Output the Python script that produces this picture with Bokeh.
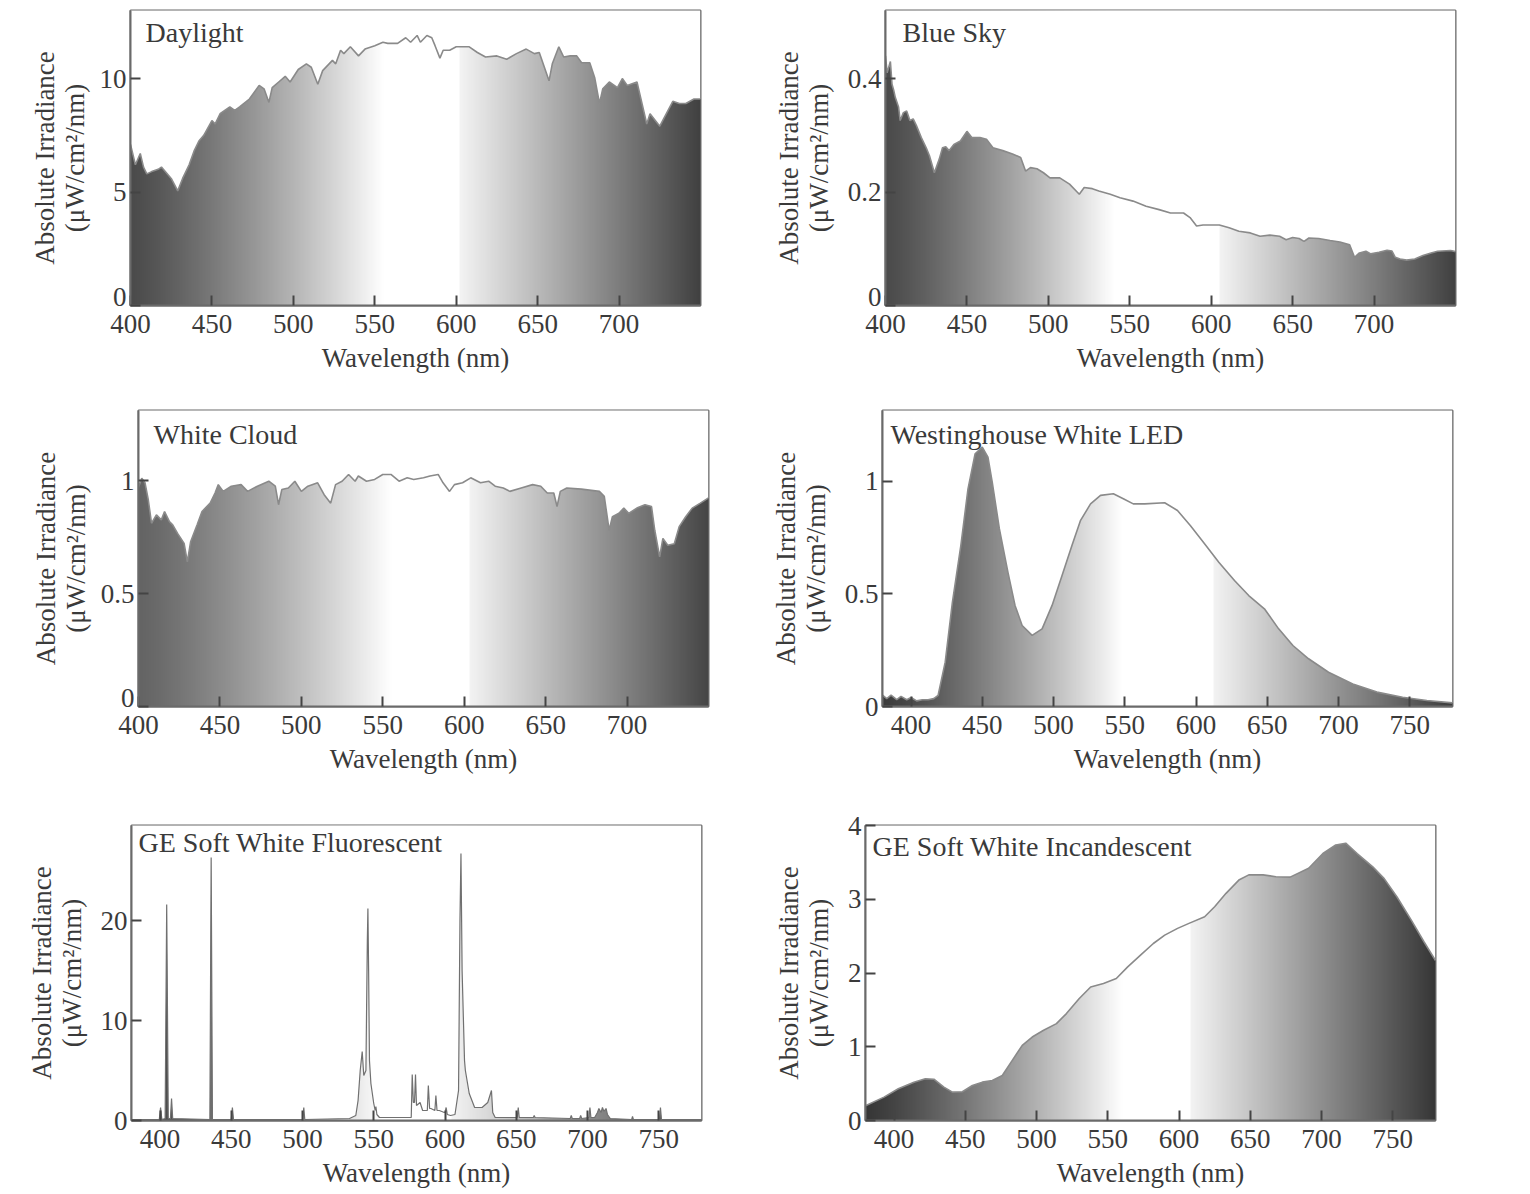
import numpy as np
from bokeh.plotting import figure
from bokeh.layouts import column, row
from bokeh.models import Label, FixedTicker, NumeralTickFormatter
from bokeh.embed import file_html
from bokeh.resources import INLINE

# ---------------- data ----------------
daylight_nm = [400, 403, 406, 408, 410, 413, 417, 419, 422, 425, 429, 432, 436, 439, 442,
               445, 450, 452, 455, 461, 464, 467, 473, 479, 482, 485, 487, 491, 495, 498,
               503, 508, 511, 515, 518, 524, 526, 529, 531, 535, 540, 544, 550, 555, 558,
               564, 569, 572, 576, 578, 582, 585, 587, 590, 592, 596, 600, 608, 613, 618,
               625, 631, 637, 643, 648, 651, 657, 659, 663, 666, 670, 674, 677, 682, 685,
               688, 690, 694, 699, 702, 705, 711, 717, 719, 725, 733, 737, 741, 746, 750]
daylight_val = [7.1, 6.2, 6.7, 6.1, 5.8, 5.9, 6.0, 6.1, 5.85, 5.6, 5.05, 5.6, 6.2, 6.8, 7.25,
                7.5, 8.15, 8.0, 8.45, 8.75, 8.6, 8.75, 9.1, 9.7, 9.55, 8.95, 9.6, 9.85, 10.1, 9.85,
                10.4, 10.65, 10.5, 9.75, 10.35, 10.8, 10.65, 11.25, 11.1, 11.4, 11.0, 11.3, 11.45, 11.6, 11.55,
                11.55, 11.8, 11.6, 11.9, 11.6, 11.9, 11.8, 11.45, 10.9, 11.25, 11.25, 11.4, 11.4, 11.15, 10.95,
                11.0, 10.85, 11.1, 11.3, 11.1, 11.15, 9.9, 10.65, 11.4, 10.95, 11.0, 11.0, 10.7, 10.7, 10.05,
                8.9, 9.55, 9.85, 9.6, 10.0, 9.7, 9.85, 8.0, 8.45, 7.9, 9.0, 8.9, 8.9, 9.1, 9.1]

sky_nm = [400, 401, 403, 404, 405, 406, 408, 409, 411, 413, 415, 417, 419, 422, 425,
          427, 430, 433, 435, 437, 439, 442, 446, 450, 453, 458, 462, 466, 472, 478,
          483, 486, 489, 493, 497, 501, 507, 513, 519, 522, 527, 531, 538, 544, 552,
          560, 568, 575, 583, 587, 591, 595, 605, 611, 617, 624, 630, 636, 642, 646,
          650, 654, 657, 660, 666, 673, 679, 685, 688, 691, 695, 698, 703, 708, 711,
          713, 716, 720, 725, 730, 735, 739, 747, 750]
sky_val = [0.44, 0.41, 0.43, 0.39, 0.38, 0.367, 0.35, 0.326, 0.34, 0.343, 0.326, 0.329, 0.317, 0.296, 0.278,
           0.264, 0.234, 0.258, 0.278, 0.28, 0.273, 0.284, 0.29, 0.307, 0.296, 0.296, 0.293, 0.278, 0.273, 0.267,
           0.261, 0.237, 0.243, 0.241, 0.234, 0.225, 0.225, 0.214, 0.196, 0.208, 0.206, 0.202, 0.196, 0.19, 0.184,
           0.175, 0.169, 0.163, 0.163, 0.155, 0.14, 0.142, 0.142, 0.137, 0.131, 0.128, 0.122, 0.124, 0.122, 0.116,
           0.12, 0.118, 0.113, 0.119, 0.118, 0.1145, 0.112, 0.107, 0.085, 0.0926, 0.0956, 0.091, 0.094, 0.0973, 0.096,
           0.085, 0.082, 0.08, 0.082, 0.088, 0.0926, 0.0956, 0.097, 0.095]

cloud_nm = [400, 402, 404, 406, 408, 411, 414, 416, 419, 421, 424, 428, 430, 432, 436,
            439, 444, 447, 449, 452, 457, 463, 467, 473, 480, 484, 486, 488, 492, 496,
            500, 504, 510, 514, 518, 521, 525, 529, 533, 535, 540, 545, 550, 555, 560,
            565, 569, 575, 579, 584, 587, 591, 594, 599, 604, 610, 615, 619, 624, 628,
            635, 642, 647, 651, 655, 657, 659, 663, 672, 683, 686, 689, 691, 695, 698,
            701, 706, 711, 715, 717, 720, 722, 725, 729, 732, 736, 740, 745, 750]
cloud_val = [0.97, 1.01, 0.99, 0.915, 0.811, 0.848, 0.826, 0.863, 0.818, 0.804, 0.766, 0.722, 0.64, 0.729, 0.804,
             0.863, 0.9, 0.945, 0.982, 0.952, 0.975, 0.982, 0.952, 0.975, 0.997, 0.975, 0.893, 0.96, 0.967, 0.997,
             0.952, 0.975, 0.99, 0.9375, 0.9, 0.982, 0.997, 1.027, 0.997, 1.02, 0.997, 1.005, 1.027, 1.027, 0.997,
             1.012, 1.005, 1.012, 1.02, 1.027, 0.99, 0.952, 0.982, 0.99, 1.012, 0.99, 0.997, 0.975, 0.967, 0.952,
             0.967, 0.982, 0.975, 0.945, 0.945, 0.885, 0.952, 0.967, 0.962, 0.952, 0.93, 0.78, 0.84, 0.855, 0.878,
             0.855, 0.878, 0.893, 0.885, 0.78, 0.662, 0.744, 0.714, 0.72, 0.796, 0.84, 0.878, 0.9, 0.923]

led_nm = [380, 383, 386, 390, 393, 397, 400, 404, 408, 412, 416, 419, 424, 429, 435,
          440, 445, 450, 454, 457, 462, 468, 473, 478, 485, 492, 499, 506, 513, 519,
          526, 533, 542, 549, 556, 564, 578, 587, 596, 606, 616, 627, 637, 648, 658,
          668, 679, 693, 710, 727, 745, 762, 780]
led_val = [0.05, 0.035, 0.05, 0.03, 0.045, 0.03, 0.04, 0.025, 0.03, 0.03, 0.035, 0.049, 0.197, 0.46, 0.716,
           0.967, 1.123, 1.152, 1.108, 0.997, 0.79, 0.597, 0.449, 0.36, 0.316, 0.345, 0.449, 0.582, 0.716, 0.827,
           0.9, 0.938, 0.945, 0.923, 0.9, 0.9, 0.905, 0.871, 0.804, 0.723, 0.641, 0.56, 0.493, 0.434, 0.345,
           0.271, 0.212, 0.152, 0.1, 0.064, 0.041, 0.027, 0.016]

fluor_nm = [380, 399.5, 400.4, 401.3, 403.6, 404.7, 405.8, 407.3, 408.1, 408.9, 435.0, 435.9, 436.8,
            450.0, 450.8, 451.6, 500.2, 500.9, 501.6, 533, 537.4, 539, 540.5, 541.9, 543.0, 544.5,
            545.5, 545.9, 546.4, 547, 548, 550, 551, 551.5, 552.2, 554, 576.3, 577.0, 577.8, 578.6,
            579.3, 580.0, 582.5, 584.3, 587.6, 588.3, 589.2, 590.1, 592.9, 593.6, 594.4, 596, 599.5,
            600.0, 600.8, 601.6, 603.9, 607, 609.5, 610.5, 611.2, 612, 613.7, 614.3, 617, 620.8, 626,
            630, 632.6, 633.5, 635.2, 650.7, 651.4, 652.1, 662.0, 662.6, 663.2, 687.9, 688.6, 689.3,
            694.5, 695.2, 695.9, 701.0, 701.7, 702.4, 705, 707, 708, 709.5, 710.5, 711.5, 713, 714,
            716, 731.0, 731.6, 732.2, 750.5, 751.2, 751.9, 780]
fluor_val = [0.1, 0.1, 1.3, 0.1, 0.2, 21.6, 0.2, 0.2, 2.2, 0.2, 0.1, 26.3, 0.1,
             0.1, 1.3, 0.1, 0.1, 1.3, 0.1, 0.2, 0.5, 2.0, 5.0, 6.9, 4.5, 5.0,
             18.0, 21.2, 15.0, 6.0, 3.7, 1.7, 1.0, 1.4, 0.6, 0.3, 0.3, 4.6, 1.8, 1.8,
             4.6, 1.5, 1.8, 1.0, 1.0, 3.5, 1.2, 1.2, 1.0, 2.5, 1.0, 1.0, 0.8,
             0.8, 1.3, 0.6, 0.5, 0.6, 3.0, 20.0, 26.7, 15.0, 6.0, 5.0, 2.7, 1.3, 1.3,
             1.8, 3.0, 0.8, 0.3, 0.3, 1.3, 0.3, 0.3, 0.5, 0.3, 0.2, 0.5, 0.2,
             0.2, 0.5, 0.2, 0.3, 1.3, 0.3, 0.3, 0.8, 1.2, 0.8, 1.3, 0.9, 1.2, 0.6,
             0.2, 0.1, 0.4, 0.1, 0.1, 1.3, 0.1, 0.1]

incand_nm = [380, 393, 403, 414, 422, 428, 435, 441, 448, 455, 462, 469, 476, 483, 490,
             497, 505, 514, 521, 530, 538, 547, 556, 564, 573, 582, 590, 599, 607, 618,
             625, 633, 642, 649, 659, 668, 678, 691, 701, 710, 717, 725, 736, 744, 753,
             763, 772, 780]
incand_val = [0.2, 0.317, 0.43, 0.52, 0.566, 0.56, 0.453, 0.385, 0.39, 0.475, 0.52, 0.543, 0.611, 0.815, 1.019,
              1.132, 1.223, 1.314, 1.45, 1.654, 1.811, 1.857, 1.925, 2.083, 2.242, 2.4, 2.514, 2.605, 2.673, 2.763,
              2.899, 3.08, 3.26, 3.33, 3.33, 3.306, 3.3, 3.42, 3.62, 3.736, 3.76, 3.62, 3.44, 3.28, 3.03,
              2.717, 2.42, 2.17]

titles = ["Daylight", "Blue Sky", "White Cloud", "Westinghouse White LED",
          "GE Soft White Fluorescent", "GE Soft White Incandescent"]
x_ticks_short = [400, 450, 500, 550, 600, 650, 700]
x_ticks_long = [400, 450, 500, 550, 600, 650, 700, 750]
y_ticks_daylight = [0, 5, 10]
y_ticks_sky = [0, 0.2, 0.4]
y_ticks_cloud = [0, 0.5, 1]
y_ticks_led = [0, 0.5, 1]
y_ticks_fluor = [0, 10, 20]
y_ticks_incand = [0, 1, 2, 3, 4]
x_label = "Wavelength (nm)"
y_label = "Absolute Irradiance\n(\u03bcW/cm\u00b2/nm)"

# ---------------- styling ----------------
FONT = "Liberation Serif"
TXT = "#3a3a3a"
FS = "27px"


def gradient_image(x0, x1, w0, w1, dl, dr, n=900):
    xs = np.linspace(x0, x1, n)
    g = np.full(n, 255.0)
    left = xs < w0
    t = (xs[left] - x0) / (w0 - x0)
    g[left] = dl + (255 - dl) * t ** 1.2
    right = xs > w1
    t = (xs[right] - w1) / (x1 - w1)
    g[right] = 244 - (244 - dr) * t
    g = np.clip(g, 0, 255).astype(np.uint8)
    img = np.zeros((2, n), dtype=np.uint32)
    view = img.view(dtype=np.uint8).reshape((2, n, 4))
    for k in range(3):
        view[:, :, k] = g
    view[:, :, 3] = 255
    return img


def panel(title, nm, vals, xr, ymax, xticks, yticks, band, dark,
          bl, br, bt, bb, fh, ystand, toff, lc="#8a8a8a", lw=1.6, raise_zero=False):
    p = figure(x_range=xr, y_range=(0, ymax), frame_width=570, frame_height=fh,
               min_border_left=bl, min_border_right=br,
               min_border_top=bt, min_border_bottom=bb,
               toolbar_location=None, output_backend="svg")
    img = gradient_image(xr[0], xr[1], band[0], band[1], dark[0], dark[1])
    p.image_rgba(image=[img], x=xr[0], y=0, dw=xr[1] - xr[0], dh=ymax)
    p.varea(x=nm, y1=vals, y2=[ymax * 2] * len(nm), fill_color="white", fill_alpha=1.0)
    p.line(nm, vals, line_color=lc, line_width=lw)

    p.add_layout(Label(x=xr[0], y=ymax, x_offset=toff[0], y_offset=toff[1], text=title,
                       text_baseline="top", text_align="left", text_font=FONT,
                       text_font_size="28px", text_color=TXT))

    p.grid.visible = False
    p.outline_line_color = "#6a6a6a"
    p.outline_line_width = 2
    for ax in (p.xaxis[0], p.yaxis[0]):
        ax.axis_line_color = "#6a6a6a"
        ax.axis_line_width = 2
        ax.major_tick_in = 10
        ax.major_tick_out = 0
        ax.major_tick_line_color = "#444444"
        ax.major_tick_line_width = 2
        ax.minor_tick_line_color = None
        ax.major_label_text_font = FONT
        ax.major_label_text_font_size = FS
        ax.major_label_text_color = TXT
        ax.axis_label_text_font = FONT
        ax.axis_label_text_font_size = FS
        ax.axis_label_text_font_style = "normal"
        ax.axis_label_text_color = TXT
    p.xaxis.ticker = FixedTicker(ticks=xticks)
    p.yaxis.ticker = FixedTicker(ticks=yticks)
    p.yaxis.formatter = NumeralTickFormatter(format="0.[0]")
    if raise_zero:
        p.yaxis.major_label_overrides = {0: "0\n "}
        p.yaxis.major_label_text_line_height = 0.6
    p.xaxis.axis_label = x_label
    p.yaxis.axis_label = y_label
    p.xaxis.major_label_standoff = 9
    p.xaxis.axis_label_standoff = 7
    p.yaxis.major_label_standoff = 4
    p.yaxis.axis_label_standoff = ystand
    p.yaxis.axis_label_text_line_height = 1.0
    return p


f1 = panel(titles[0], daylight_nm, daylight_val, (400, 750), 13.0, x_ticks_short, y_ticks_daylight,
           (555, 602), (75, 65), 130, 58, 10, 95, 295, 7, (15, -6), raise_zero=True)
f2 = panel(titles[1], sky_nm, sky_val, (400, 750), 0.52, x_ticks_short, y_ticks_sky,
           (540, 605), (75, 65), 127, 55, 10, 95, 295, 11, (17, -6), raise_zero=True)
f3 = panel(titles[2], cloud_nm, cloud_val, (400, 750), 1.31, x_ticks_short, y_ticks_cloud,
           (555, 603), (100, 70), 138, 50, 10, 99, 296, 7, (15, -8), raise_zero=True)
f4 = panel(titles[3], led_nm, led_val, (380, 780), 1.315, x_ticks_long, y_ticks_led,
           (548, 612), (60, 60), 124, 58, 10, 99, 296, 11, (8, -8))
f5 = panel(titles[4], fluor_nm, fluor_val, (380, 780), 29.5, x_ticks_long, y_ticks_fluor,
           (555, 605), (60, 60), 131, 57, 20, 72, 295, 11, (7, -1), lc="#707070", lw=1.2)
f6 = panel(titles[5], incand_nm, incand_val, (380, 780), 4.0, x_ticks_long, y_ticks_incand,
           (560, 608), (55, 55), 107, 75, 20, 72, 295, 11, (7, -5))

layout = column(row(f1, f2), row(f3, f4), row(f5, f6))

open("out.html", "w").write(file_html(layout, INLINE))
